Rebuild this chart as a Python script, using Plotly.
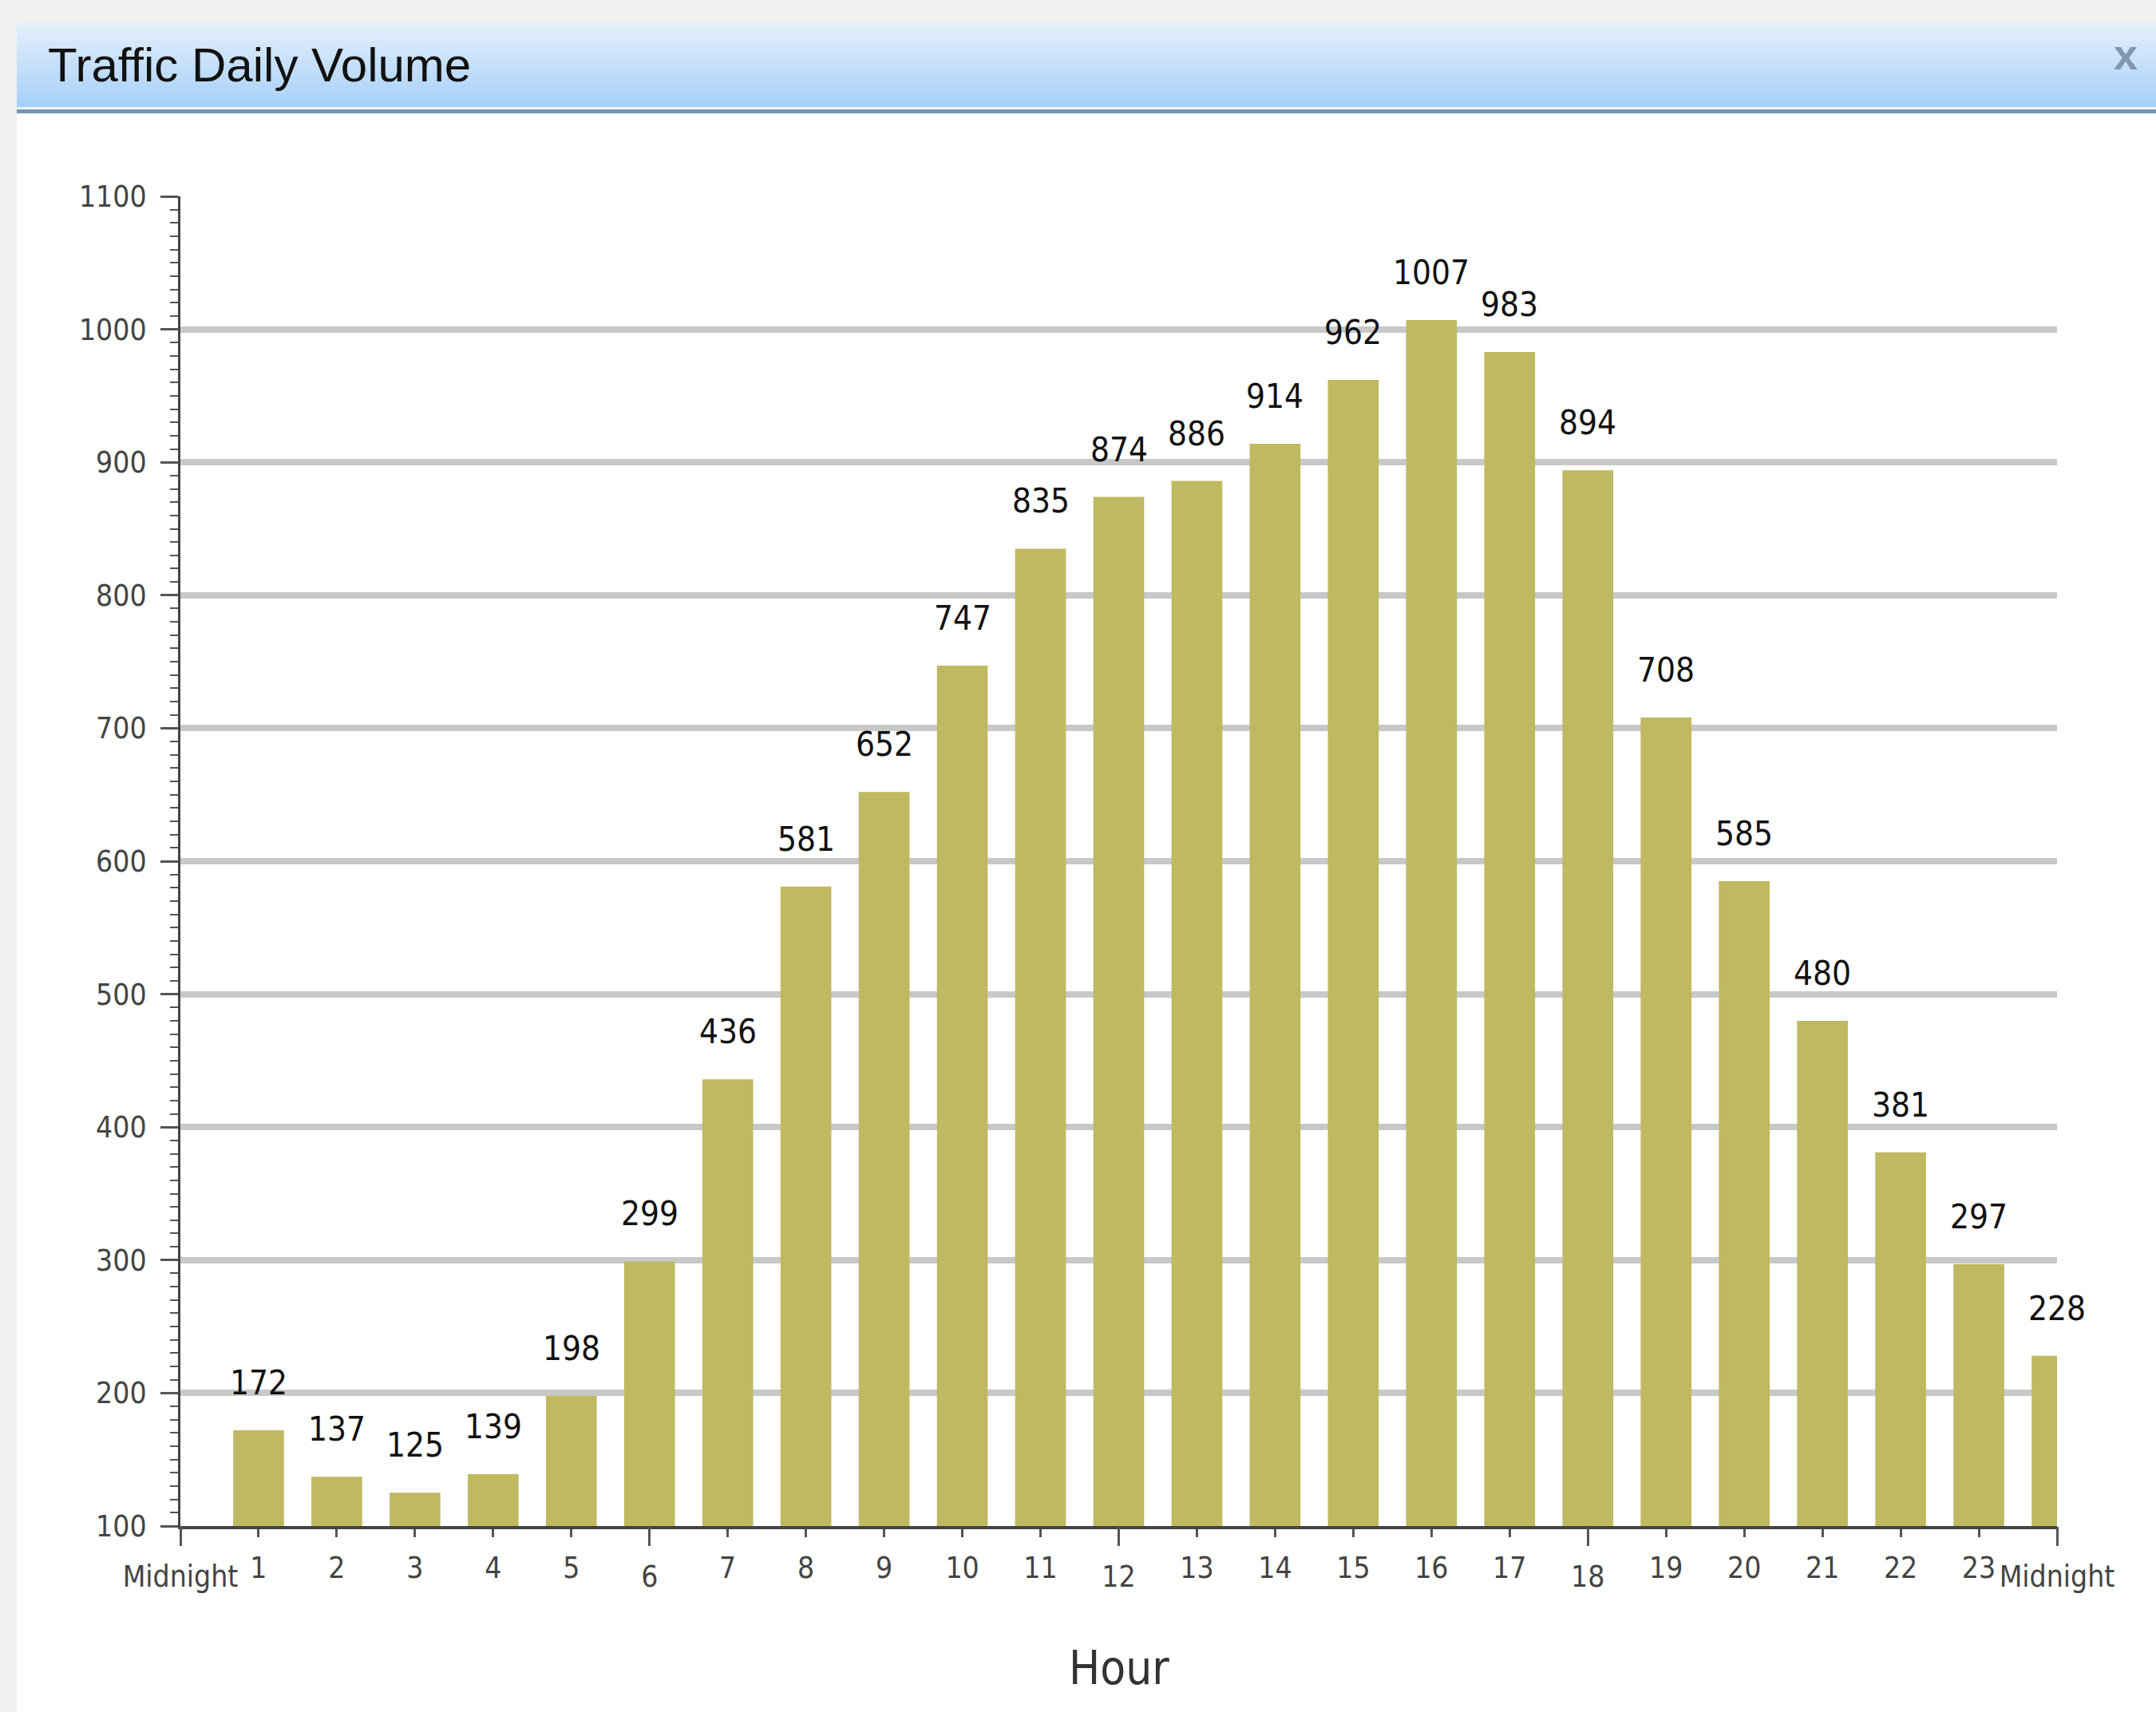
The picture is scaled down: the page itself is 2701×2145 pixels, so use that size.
import plotly.graph_objects as go

# ---- data ----
hours = list(range(1, 25))
volumes = [172, 137, 125, 139, 198, 299, 436, 581, 652, 747, 835, 874,
           886, 914, 962, 1007, 983, 894, 708, 585, 480, 381, 297, 228]
minor_hour_ticks = [h for h in range(1, 24) if h % 6 != 0]
major_hour_ticks = [0, 6, 12, 18, 24]
major_hour_labels = ["Midnight", "6", "12", "18", "Midnight"]
title_text = "Traffic Daily Volume"
x_title = "Hour"

# ---- geometry (pixels) ----
W, H = 2701, 2145
L, R, T, B = 226, 124, 246, 233
PW, PH = W - L - R, H - T - B


def px(x):
    return (x - L) / PW


def py(y):
    return (H - B - y) / PH


FONT = "DejaVu Sans Condensed, DejaVu Sans, Verdana, sans-serif"
BAR = "#bfb962"

fig = go.Figure()
fig.add_trace(go.Bar(x=hours, y=volumes, width=0.65,
                     marker=dict(color=BAR, line=dict(width=0)),
                     hoverinfo="x+y", showlegend=False))
# helper trace so the overlay axis carrying the long ticks is drawn
fig.add_trace(go.Scatter(x=[None], y=[None], xaxis="x2", mode="markers",
                         showlegend=False, hoverinfo="skip"))

shapes = []
# white panel
shapes.append(dict(type="rect", xref="paper", yref="paper", layer="below",
                   x0=px(21), x1=px(W + 5), y0=py(28), y1=py(H + 5),
                   fillcolor="white", line=dict(width=0)))
# gradient title bar
n = 40
top_c = (0xe4, 0xef, 0xfa)
bot_c = (0xa7, 0xd0, 0xf8)
y_top, y_bot = 28, 134
for i in range(n):
    t = i / (n - 1)
    c = tuple(round(top_c[k] + (bot_c[k] - top_c[k]) * t) for k in range(3))
    ya = y_top + (y_bot - y_top) * i / n
    yb = y_top + (y_bot - y_top) * (i + 1) / n + 0.6
    shapes.append(dict(type="rect", xref="paper", yref="paper", layer="below",
                       x0=px(21), x1=px(W + 5), y0=py(ya), y1=py(yb),
                       fillcolor="rgb(%d,%d,%d)" % c, line=dict(width=0)))
# separator line
shapes.append(dict(type="rect", xref="paper", yref="paper", layer="below",
                   x0=px(21), x1=px(W + 5), y0=py(137), y1=py(142),
                   fillcolor="#7396ba", line=dict(width=0)))

annotations = [
    dict(text=title_text, xref="paper", yref="paper", x=px(58), y=py(81),
         xanchor="left", yanchor="middle", showarrow=False,
         font=dict(family="Liberation Sans, Arial, sans-serif", size=60, color="#111")),
    dict(text="<b>x</b>", xref="paper", yref="paper", x=px(2663), y=py(68),
         xanchor="center", yanchor="middle", showarrow=False,
         font=dict(family="Liberation Sans, Arial, sans-serif", size=54, color="#8196ad")),
    dict(text=x_title, xref="paper", yref="paper", x=0.5, y=py(2090),
         xanchor="center", yanchor="middle", showarrow=False,
         font=dict(family=FONT, size=58, color="#333")),
]
for h, v in zip(hours, volumes):
    annotations.append(dict(text=str(v), x=h, y=v, xref="x", yref="y",
                            xanchor="center", yanchor="bottom", yshift=33,
                            showarrow=False,
                            font=dict(family=FONT, size=42, color="#111")))

tick_font = dict(family=FONT, size=37, color="#444")

fig.update_layout(
    width=W, height=H,
    margin=dict(l=L, r=R, t=T, b=B, pad=0),
    paper_bgcolor="#f0f0f0",
    plot_bgcolor="rgba(0,0,0,0)",
    shapes=shapes,
    annotations=annotations,
    bargap=0.35,
    xaxis=dict(range=[0, 24], tickmode="array", tickvals=minor_hour_ticks,
               ticktext=[str(h) for h in minor_hour_ticks],
               ticks="outside", ticklen=10, tickwidth=3, tickcolor="#555",
               showline=True, linecolor="#444", linewidth=4,
               showgrid=False, zeroline=False, tickfont=tick_font,
               ticklabelstandoff=7),
    xaxis2=dict(range=[0, 24], overlaying="x", anchor="y", side="bottom",
                tickmode="array", tickvals=major_hour_ticks,
                ticktext=major_hour_labels,
                ticks="outside", ticklen=24, tickwidth=3, tickcolor="#555",
                showline=False, showgrid=False, zeroline=False,
                tickfont=tick_font, ticklabelstandoff=7),
    yaxis=dict(range=[100, 1100], tickmode="linear", tick0=100, dtick=100,
               ticks="outside", ticklen=22, tickwidth=3, tickcolor="#555",
               showline=True, linecolor="#444", linewidth=3,
               showgrid=True, gridcolor="#c8c8c8", gridwidth=8,
               zeroline=False, tickfont=tick_font, ticklabelstandoff=10,
               minor=dict(dtick=10, ticks="outside", ticklen=10, tickwidth=2,
                          tickcolor="#555", showgrid=False)),
)

fig.write_html(
    "out.html",
    config={"displayModeBar": False},
    post_script="document.body.style.margin='0';"
                "document.body.style.background='#f0f0f0';",
)
